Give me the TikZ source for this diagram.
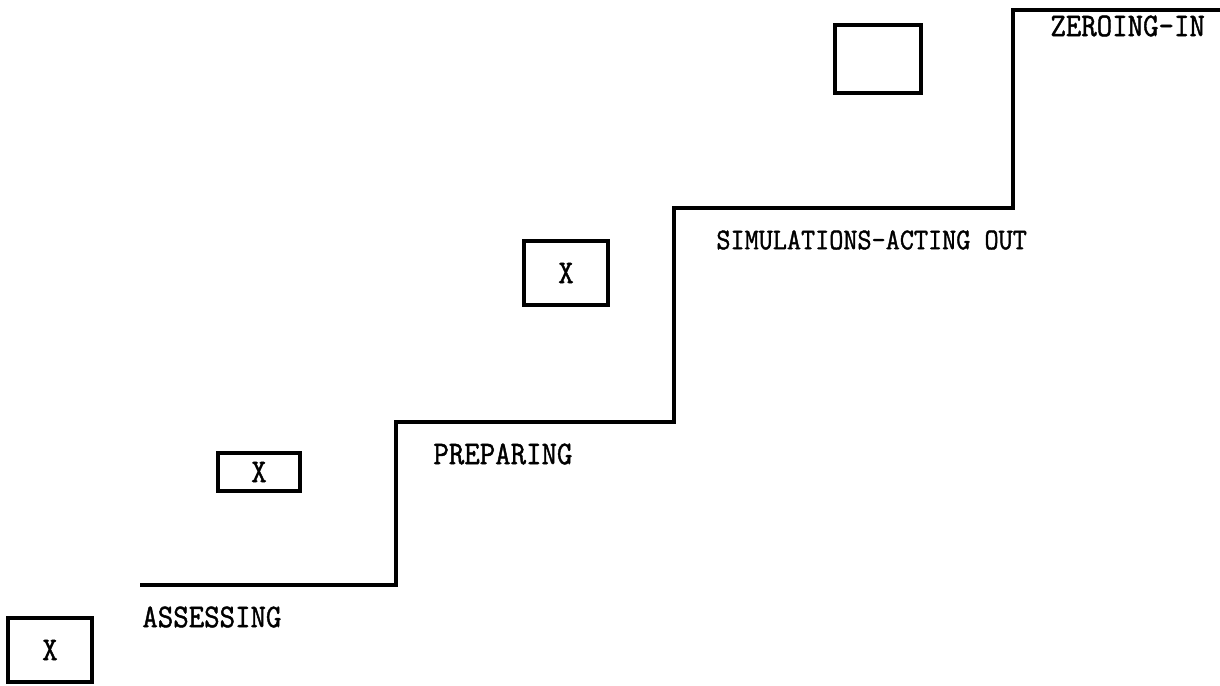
\documentclass[tikz,border=0pt]{standalone}
\usepackage{fontspec}
\usepackage{graphicx}
\newfontfamily\typewriter[FakeBold=1.4]{Latin Modern Mono}
\usetikzlibrary{positioning}
% taller typewriter letters
\newcommand{\tw}[1]{\scalebox{1}[1.1]{#1}}
\tikzset{
    % Staircase line
    stair/.style={
        line width=1.6pt,
        line join=miter
    },
    % Marked box
    xbox/.style={
        rectangle,
        draw,
        line width=1.6pt,
        inner sep=0pt,
        font=\typewriter\fontsize{15}{17}\selectfont
    },
    % Stage label
    stage/.style={
        anchor=west,
        inner sep=0pt,
        font=\typewriter\fontsize{15}{17}\selectfont
    }
}
\begin{document}
\begin{tikzpicture}[x=0.5pt, y=-0.5pt]
    \useasboundingbox (0,0) rectangle (1220,685);

    % Steps
    \coordinate (s0) at (140,585);
    \coordinate (s1) at (396,585);
    \coordinate (s2) at (396,422);
    \coordinate (s3) at (674,422);
    \coordinate (s4) at (674,208);
    \coordinate (s5) at (1013,208);
    \coordinate (s6) at (1013,10);
    \coordinate (s7) at (1220,10);
    \draw [stair] (s0) -- (s1) -- (s2) -- (s3) -- (s4) -- (s5) -- (s6) -- (s7);

    % Stage labels
    \node (assess) [stage] at (142,617) {\tw{ASSESSING}};
    \node (prep) [stage] at (433,454) {\tw{PREPARING}};
    \node (simul) [stage, font=\typewriter\fontsize{13.7}{16}\selectfont] at (716,240) {\tw{SIMULATIONS-ACTING OUT}};
    \node (zero) [stage] at (1050,26) {\tw{ZEROING-IN}};

    % Boxes
    \node (box1) [xbox, minimum width=42pt, minimum height=32pt] at (50,650) {\tw{X}};
    \node (box2) [xbox, minimum width=41pt, minimum height=19pt] at (259,472) {\tw{X}};
    \node (box3) [xbox, minimum width=42pt, minimum height=32pt] at (566,273) {\tw{X}};
    \node (box4) [xbox, minimum width=43pt, minimum height=34pt] at (878,59) {};
\end{tikzpicture}
\end{document}
